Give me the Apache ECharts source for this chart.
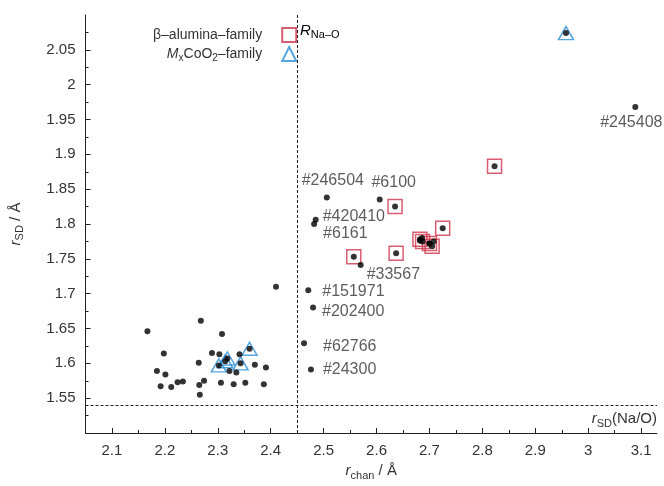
<!DOCTYPE html>
<html>
<head>
<meta charset="utf-8">
<script src="https://cdn.jsdelivr.net/npm/echarts@6/dist/echarts.min.js"></script>
<style>
  html, body { margin: 0; padding: 0; background: #fff; }
  #chart { width: 664px; height: 486px; }
</style>
</head>
<body>
<div id="chart"></div>
<script>
// tick values
var xMajor = [2.1, 2.2, 2.3, 2.4, 2.5, 2.6, 2.7, 2.8, 2.9, 3.0, 3.1]
var xMinor = [2.15, 2.25, 2.35, 2.45, 2.55, 2.65, 2.75, 2.85, 2.95, 3.05]
var yMajor = [1.55, 1.6, 1.65, 1.7, 1.75, 1.8, 1.85, 1.9, 1.95, 2.0, 2.05]
var yMinor = [1.525, 1.575, 1.625, 1.675, 1.725, 1.775, 1.825, 1.875, 1.925, 1.975, 2.025, 2.075]

// reference lines
var rNaO = 2.45
var rSDNaO = 1.543

// beta-alumina family (squares)
var alumina = [
  [2.635, 1.825], [2.557, 1.753], [2.637, 1.758], [2.682, 1.778],
  [2.687, 1.775], [2.700, 1.772], [2.705, 1.768], [2.725, 1.794], [2.823, 1.883]
]
// MxCoO2 family (triangles)
var cobalt = [
  [2.318, 1.607], [2.314, 1.603], [2.302, 1.597], [2.343, 1.600], [2.360, 1.621], [2.958, 2.074]
]
// other structures (plain dots)
var others = [
  [2.410, 1.710], [2.167, 1.646], [2.268, 1.661], [2.308, 1.642], [2.198, 1.614],
  [2.289, 1.615], [2.303, 1.613], [2.341, 1.613], [2.264, 1.601], [2.185, 1.589],
  [2.201, 1.584], [2.192, 1.567], [2.212, 1.566], [2.224, 1.573], [2.234, 1.574],
  [2.265, 1.569], [2.274, 1.575], [2.266, 1.555], [2.306, 1.572], [2.330, 1.570],
  [2.352, 1.572], [2.387, 1.570], [2.370, 1.598], [2.391, 1.594], [2.322, 1.589],
  [2.335, 1.587], [2.682, 1.776], [2.686, 1.780], [2.700, 1.772], [2.708, 1.775]
]
// labelled structures
var labelNames = ['#246504', '#6100', '#420410', '#6161', '#33567', '#151971', '#202400', '#62766', '#24300', '#245408']
var labelPoints = [
  [2.506, 1.838], [2.606, 1.835], [2.485, 1.806], [2.482, 1.800], [2.570, 1.741],
  [2.471, 1.705], [2.480, 1.680], [2.463, 1.629], [2.476, 1.591], [3.089, 1.968]
]

// where each tag sits next to its point
var tagPlace = {
  '#246504': { position: 'top', distance: 6, offset: [6, 0] },
  '#6100': { position: 'top', distance: 6, offset: [14, 0] },
  '#420410': { position: 'right', distance: 4, offset: [0, -3] },
  '#6161': { position: 'right', distance: 6, offset: [0, 10] },
  '#33567': { position: 'right', distance: 3, offset: [0, 9] },
  '#151971': { position: 'right', distance: 11, offset: [0, 1] },
  '#202400': { position: 'right', distance: 6, offset: [0, 4] },
  '#62766': { position: 'right', distance: 16, offset: [0, 3] },
  '#24300': { position: 'right', distance: 9, offset: [0, 0] },
  '#245408': { position: 'bottom', distance: 5, offset: [-4, 0] }
}

var FONT = 'Liberation Sans, Arial, sans-serif'
var TXT = '#333'
var RED = '#d0344c'
var BLUE = '#2a8fd8'

var sub = {
  i: { fontStyle: 'italic', fontSize: 15, lineHeight: 20, color: TXT, fontFamily: FONT },
  n: { fontSize: 15, lineHeight: 20, color: TXT, fontFamily: FONT },
  s: { fontSize: 11, lineHeight: 12, verticalAlign: 'bottom', color: TXT, fontFamily: FONT }
}
var legendRich = {
  i: { fontStyle: 'italic', fontSize: 14, lineHeight: 19, color: TXT, fontFamily: FONT },
  n: { fontSize: 14, lineHeight: 19, color: TXT, fontFamily: FONT },
  s: { fontSize: 10, lineHeight: 11, verticalAlign: 'bottom', color: TXT, fontFamily: FONT }
}

var tagged = labelPoints.map(function (p, k) {
  var pl = tagPlace[labelNames[k]]
  return {
    name: labelNames[k],
    value: p,
    label: { show: true, position: pl.position, distance: pl.distance, offset: pl.offset }
  }
})

var myChart = echarts.init(document.getElementById('chart'))
var option = {
  animation: false,
  grid: { left: 83, right: 7, top: 15, bottom: 48 },
  legend: {
    orient: 'vertical',
    left: 148,
    top: 22,
    align: 'right',
    itemGap: 3,
    itemWidth: 14,
    itemHeight: 14,
    data: ['alumina', 'cobalt'],
    formatter: function (name) {
      if (name === 'alumina') return '{n|β–alumina–family}'
      return '{i|M}{s|x}{n|CoO}{s|2}{n|–family}'
    },
    textStyle: { padding: [0, 15, 0, 0], rich: legendRich }
  },
  xAxis: [
    {
      type: 'value',
      min: 2.05,
      max: 3.13,
      name: '{i|r}{s|chan}{n| / Å}',
      nameLocation: 'middle',
      nameGap: 28,
      nameTextStyle: { rich: sub },
      splitLine: { show: false },
      axisLine: { lineStyle: { color: '#222', width: 1 } },
      axisTick: { inside: true, length: 5, customValues: xMajor, lineStyle: { color: '#222' } },
      axisLabel: { customValues: xMajor, color: TXT, fontSize: 15, fontFamily: FONT, margin: 10 }
    },
    {
      type: 'value',
      min: 2.05,
      max: 3.13,
      position: 'bottom',
      splitLine: { show: false },
      axisLine: { show: false },
      axisTick: { inside: true, length: 3, customValues: xMinor, lineStyle: { color: '#222' } },
      axisLabel: { show: false }
    }
  ],
  yAxis: [
    {
      type: 'value',
      min: 1.5,
      max: 2.1,
      name: '{i|r}{s|SD}{n| / Å}',
      nameLocation: 'middle',
      nameGap: 60,
      nameRotate: 90,
      nameTextStyle: { rich: sub },
      splitLine: { show: false },
      axisLine: { show: true, lineStyle: { color: '#222', width: 1 } },
      axisTick: { show: true, inside: true, length: 5, customValues: yMajor, lineStyle: { color: '#222' } },
      axisLabel: { customValues: yMajor, color: TXT, fontSize: 15, fontFamily: FONT, margin: 10 }
    },
    {
      type: 'value',
      min: 1.5,
      max: 2.1,
      position: 'left',
      splitLine: { show: false },
      axisLine: { show: false },
      axisTick: { show: true, inside: true, length: 3, customValues: yMinor, lineStyle: { color: '#222' } },
      axisLabel: { show: false }
    }
  ],
  graphic: [
    {
      type: 'text',
      left: 300,
      top: 23,
      style: { text: '{i|R}{s|Na–O}', rich: sub }
    }
  ],
  series: [
    {
      name: 'dots',
      type: 'scatter',
      symbol: 'circle',
      symbolSize: 6,
      itemStyle: { color: '#000' },
      data: others.concat(alumina, cobalt),
      z: 3,
      markLine: {
        silent: true,
        symbol: 'none',
        lineStyle: { color: '#222', type: [3, 2], width: 1 },
        data: [
          { xAxis: rNaO, label: { show: false } },
          {
            yAxis: rSDNaO,
            label: {
              show: true,
              position: 'insideEndBottom',
              distance: [0, 4],
              formatter: '{i|r}{s|SD}{n|(Na/O)}',
              rich: sub
            }
          }
        ]
      }
    },
    {
      name: 'tags',
      type: 'scatter',
      symbol: 'circle',
      symbolSize: 6,
      itemStyle: { color: '#000' },
      label: { color: TXT, fontSize: 16, fontFamily: FONT, formatter: '{b}' },
      data: tagged,
      z: 3
    },
    {
      name: 'alumina',
      type: 'scatter',
      symbol: 'rect',
      symbolSize: 14,
      itemStyle: { color: 'rgba(0,0,0,0)', borderColor: RED, borderWidth: 1.5 },
      data: alumina,
      z: 2
    },
    {
      name: 'cobalt',
      type: 'scatter',
      symbol: 'triangle',
      symbolSize: [15, 13],
      itemStyle: { color: 'rgba(0,0,0,0)', borderColor: BLUE, borderWidth: 1.5 },
      data: cobalt,
      z: 2
    }
  ]
}
myChart.setOption(option)
</script>
</body>
</html>
